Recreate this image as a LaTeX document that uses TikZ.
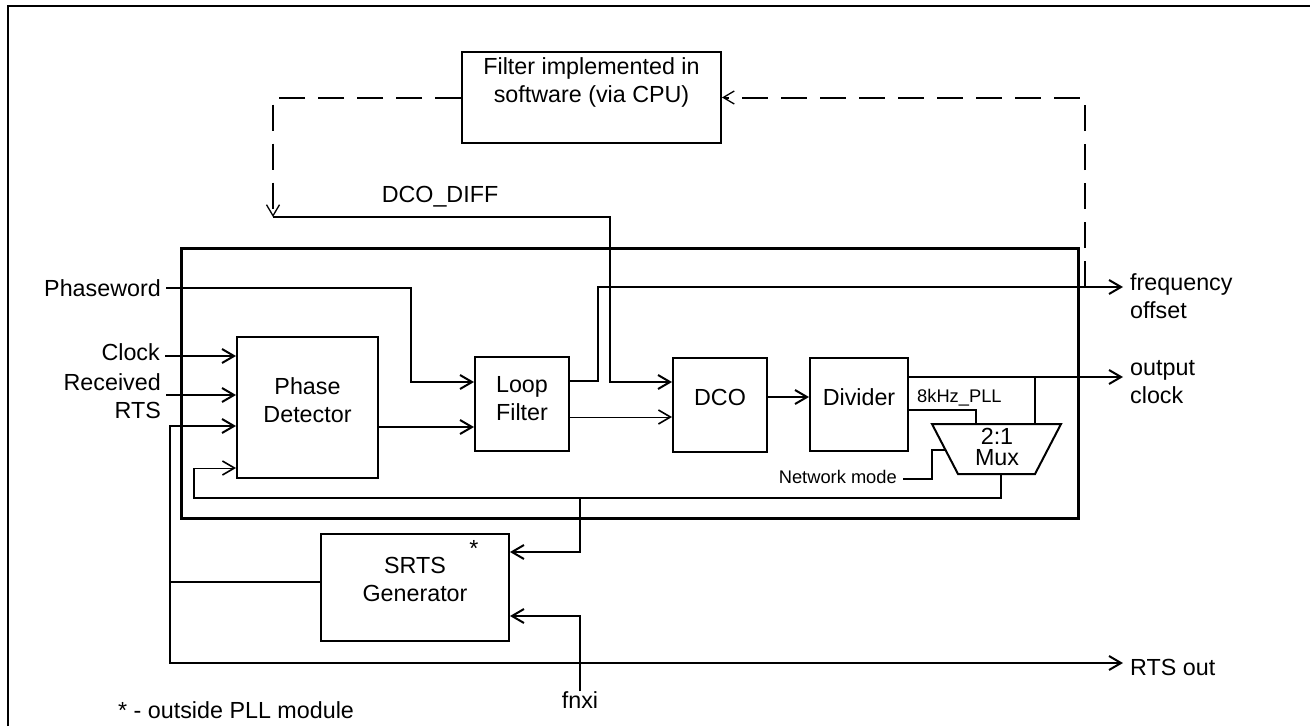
\documentclass[tikz,border=0pt]{standalone}
\usepackage{fontspec}
\setmainfont{Liberation Sans}
\usetikzlibrary{arrows.meta}
\begin{document}
\begin{tikzpicture}[x=1pt,y=-1pt,
  wire/.style={line width=2pt},
  arr/.style={wire,-{Straight Barb[length=12pt,width=14pt]}},
  thinarr/.style={line width=1pt,-{Straight Barb[length=12pt,width=14pt,line width=1.6pt]}},
  dashwire/.style={line width=2pt,dash pattern=on 26pt off 13pt},
  dasharr/.style={dashwire,-{Straight Barb[length=11pt,width=13pt,line width=1.3pt]}},
  box/.style={draw,line width=2pt,inner sep=0pt},
  lbl/.style={font=\fontsize{23.3}{28}\selectfont,inner xsep=5pt,inner ysep=0pt,align=center},
  rlbl/.style={lbl,anchor=west,align=left,inner xsep=7pt},
  small/.style={font=\fontsize{18.3}{22}\selectfont,inner xsep=6pt,inner ysep=0pt},
  muxtxt/.style={font=\fontsize{23.3}{28}\selectfont,inner sep=0pt,text height=16.5pt,text depth=0pt},
]
\useasboundingbox (0,0) rectangle (1310,726);
% outer frame
\draw[line width=2.5pt] (8,726) -- (8,6) -- (1310,6);

% PLL module
\node[draw,line width=3pt,inner sep=0pt,minimum width=897pt,minimum height=270pt] (pll) at (629.5,383) {};

% blocks
\node[box,minimum width=259pt,minimum height=91pt] (filt) at (591.5,97.5) {};
\node[lbl] (filtt) at (591.5,82) {Filter implemented in\\software (via CPU)};
\node[box,minimum width=141pt,minimum height=141pt] (pd) at (307.5,407.5) {};
\node[lbl] (pdt) at (307.5,400) {Phase\\Detector};
\node[box,minimum width=94pt,minimum height=94pt] (lf) at (522,404) {};
\node[lbl] (lft) at (522,399) {Loop\\Filter};
\node[box,minimum width=94pt,minimum height=94pt] (dco) at (720,405) {};
\node[lbl] (dcot) at (720,397) {DCO};
\node[box,minimum width=98pt,minimum height=93pt] (div) at (859,404.5) {};
\node[lbl] (divt) at (859,397) {Divider};
\node[box,minimum width=188pt,minimum height=107pt] (srts) at (415,587.5) {};
\node[lbl] (srtst) at (415,579) {SRTS\\Generator};
\node[lbl,inner sep=0pt] (star) at (474,548) {*};

% mux
\coordinate (mtl) at (932,424);
\coordinate (mtr) at (1061,424);
\coordinate (mbr) at (1035,474);
\coordinate (mbl) at (958,474);
\draw[wire] (mtl) -- (mtr) -- (mbr) -- (mbl) -- cycle;
\node[muxtxt] (mux) at (997,436) {2:1};
\node[muxtxt] (muxb2) at (997,457) {Mux};

% labels
\node[lbl,anchor=east] (pw) at (166,288) {Phaseword};
\node[lbl,anchor=east] (clk) at (165,352) {Clock};
\node[lbl,anchor=east,align=right] (rrts) at (166,396) {Received\\RTS};
\node[rlbl] (fo) at (1123,296) {frequency\\offset};
\node[rlbl] (oc) at (1123,382) {output\\clock};
\node[rlbl,align=left] (ro) at (1123,667) {RTS out};
\node[lbl] (dcodiff) at (440,197) {DCO\_DIFF};
\node[small,anchor=west,inner xsep=0pt] (k8) at (917,398) {8kHz\_PLL};
\node[small,anchor=east] (nm) at (903,477) {Network mode};
\node[lbl] (fnxi) at (580,700) {fnxi};
\node[lbl,anchor=west,inner xsep=0pt] (note) at (118,710) {* - outside PLL module};

% software loop
\coordinate (dd) at (273,217);
\coordinate (fotap) at (1085,287);
\draw[dasharr] (filt.west) -| (dd);
\draw[dasharr] (fotap) |- (filt.east);
\draw[arr] (dd) -| (610,382) -- (dco.west |- 0,382);

% inputs
\draw[arr] (pw.east) -| (411,382) -- (lf.west |- 0,382);
\draw[arr] (clk.east |- 0,356) -- (pd.west |- 0,356);
\draw[arr] (rrts.east |- 0,395) -- (pd.west |- 0,395);

% SRTS / RTS out
\coordinate (jr) at (170,582);
\draw[wire] (srts.west |- 0,582) -- (jr);
\draw[arr] (jr) |- (pd.west |- 0,426);
\draw[arr] (jr) |- (ro.west |- 0,663);

% feedback from mux
\coordinate (muxb) at (1001,474);
\coordinate (fb) at (194,468);
\coordinate (js) at (580,498);
\draw[wire] (muxb) |- (fb |- 0,498) -- (fb);
\draw[thinarr] (fb) -- (pd.west |- fb);
\draw[arr] (js) |- (srts.east |- 0,552);
\draw[arr] (fnxi.north) |- (srts.east |- 0,616);

% main chain
\draw[arr] (pd.east |- 0,427) -- (lf.west |- 0,427);
\draw[arr] (lf.east |- 0,381) -| (598,287) -- (fo.west |- 0,287);
\draw[thinarr] (lf.east |- 0,417) -- (dco.west |- 0,417);
\draw[arr] (dco.east |- 0,397) -- (div.west |- 0,397);
\draw[arr] (div.east |- 0,377) -- (oc.west |- 0,377);
\coordinate (jo) at (1035,377);
\coordinate (mt2) at (1035,424);
\draw[wire] (jo) -- (mt2);
\coordinate (mt1) at (976,424);
\draw[wire] (div.east |- 0,410) -| (mt1);
\coordinate (ml) at (945.5,450);
\draw[wire] (nm.east |- 0,479) -| (932,450) -- (ml);
\end{tikzpicture}
\end{document}
